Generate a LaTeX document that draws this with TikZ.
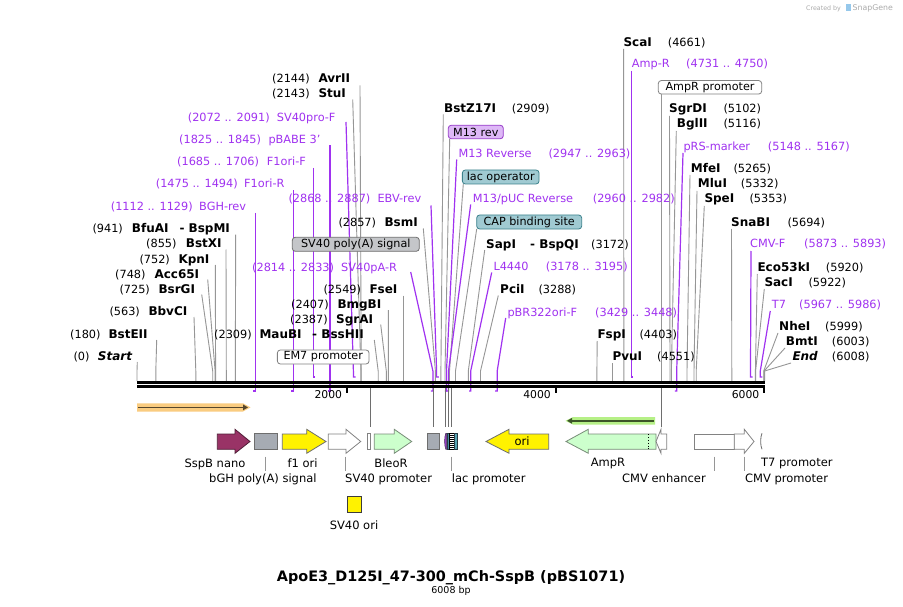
\documentclass[tikz,border=0pt]{standalone}
\usepackage{fontspec}
\setmainfont{DejaVu Sans}
\usetikzlibrary{arrows.meta}
\definecolor{primc}{RGB}{160,50,240}
\definecolor{linec}{RGB}{150,150,150}
\definecolor{featline}{RGB}{110,110,110}
\definecolor{ltgray}{RGB}{130,130,130}
\definecolor{polyafill}{RGB}{196,198,201}
\definecolor{polyadraw}{RGB}{110,110,110}
\definecolor{m13draw}{RGB}{150,60,200}
\definecolor{m13fill}{RGB}{222,184,247}
\definecolor{tealdraw}{RGB}{60,130,140}
\definecolor{tealfill}{RGB}{160,202,210}
\definecolor{orangeband}{RGB}{250,204,128}
\definecolor{orangeline}{RGB}{85,70,45}
\definecolor{greenband}{RGB}{182,240,135}
\definecolor{greenline}{RGB}{60,85,40}
\definecolor{sspbdraw}{RGB}{80,30,55}
\definecolor{sspbfill}{RGB}{153,51,102}
\definecolor{grayfeat}{RGB}{166,171,179}
\definecolor{ltgreendraw}{RGB}{120,140,120}
\definecolor{ltgreen}{RGB}{204,255,204}
\definecolor{m13feat}{RGB}{150,60,200}
\definecolor{m13featd}{RGB}{70,40,90}
\definecolor{teald}{RGB}{40,60,70}
\definecolor{tealA}{RGB}{70,140,160}
\definecolor{tealB}{RGB}{90,165,180}
\definecolor{svoridraw}{RGB}{60,60,60}
\definecolor{sggray}{RGB}{170,170,170}
\definecolor{sgblue}{RGB}{150,200,235}
\newcommand\eline[4]{%
  \coordinate (#1a) at (#2,#3); \coordinate (#1b) at (#4,371); \coordinate (#1c) at (#4,381);
  \draw[enzl] (#1a) -- (#1b) -- (#1c);}
\newcommand\pabove[5]{%
  \coordinate (#1a) at (#2,#3); \coordinate (#1b) at (#4,371); \coordinate (#1c) at (#4,377); \coordinate (#1d) at (#5,377);
  \draw[priml] (#1a) -- (#1b) -- (#1c) -- (#1d);}
\newcommand\pbelow[5]{%
  \coordinate (#1a) at (#2,#3); \coordinate (#1b) at (#4,371); \coordinate (#1c) at (#4,391); \coordinate (#1d) at (#5,391);
  \draw[priml] (#1a) -- (#1b) -- (#1c) -- (#1d);}
\begin{document}
\begin{tikzpicture}[x=1pt,y=-1pt,
  num/.style={anchor=base west, inner sep=0pt, font=\fontsize{11.3}{13}\selectfont},
  enz/.style={anchor=base west, inner sep=0pt, font=\fontsize{12}{14}\selectfont\bfseries},
  enzi/.style={anchor=base west, inner sep=0pt, font=\fontsize{12}{14}\selectfont\bfseries\itshape},
  prim/.style={num, text=primc},
  flab/.style={anchor=base, inner sep=0pt, font=\fontsize{11.5}{13}\selectfont},
  flabw/.style={flab, anchor=base west},
  enzl/.style={draw=linec, line width=0.9pt},
  priml/.style={draw=primc, line width=1.2pt},
  fline/.style={draw=featline, line width=0.8pt},
  lbox/.style={rounded corners=3pt, inner sep=0pt, minimum height=14pt, font=\fontsize{11.2}{13}\selectfont, line width=0.8pt},
  fshape/.style={line width=0.8pt, draw=featline}
]
\useasboundingbox (0,0) rectangle (903,607);
\fill[white] (0,0) rectangle (903,607);

% ---------- site lines (left) ----------
\eline{l0}{137.3}{362}{137.0}
\eline{l180}{156.7}{340}{155.8}
\eline{l563}{194}{317}{195.8}
\eline{l725}{201.7}{294.5}{212.7}
\eline{l748}{207.7}{279.5}{215.1}
\eline{l752}{215.3}{265}{215.6}
\eline{l855}{226}{249.5}{226.3}
\eline{l941}{235.7}{234.5}{235.3}
\pbelow{l1112}{255.3}{213}{255.3}{253.2}
\pbelow{l1475}{293.2}{190.5}{293.2}{291.1}
\pabove{l1685}{313.2}{168}{313.2}{315.4}
\pbelow{l1825}{330}{145.5}{330}{327.6}
\pabove{l2072}{346}{122}{353.4}{355.6}
\eline{l2143}{352.7}{99.5}{360.9}
\eline{l2144}{360}{85.5}{361.2}
% ---------- site lines (centre) ----------
\pabove{l2868}{431}{205.5}{436.6}{438.8}
\eline{l2857}{423.3}{228.5}{435.4}
\pbelow{l2814}{410.7}{272}{432.9}{430.9}
\eline{l2549}{403.3}{295.5}{403.3}
\eline{l2407}{388.3}{310}{388.4}
\eline{l2387}{380.7}{324.5}{386.3}
\eline{l2309}{374.3}{340}{378.2}
\eline{l2909}{443.3}{114.5}{440.9}
\eline{lm13b}{449.7}{139}{445.0}
\pbelow{l2947}{456.7}{159.5}{446.5}{444.8}
\eline{llacop}{463.3}{184}{449.5}
\pbelow{l2960}{470.7}{204.5}{448.5}{446.2}
\eline{lcap}{476.7}{229}{455.5}
\eline{l3172}{484.7}{250}{468.3}
\pbelow{l3178}{491.7}{272.5}{470.7}{469.0}
\eline{l3288}{498.3}{295.5}{480.5}
\pbelow{l3429}{505.7}{318}{497.2}{495.2}
\eline{l4403}{597.2}{341}{596.9}
\eline{l4551}{612.4}{363}{612.4}
% ---------- site lines (right) ----------
\eline{l4661}{623.6}{49}{623.9}
\pabove{l4731}{631.5}{71}{631.5}{633.4}
\eline{lamppr}{661.7}{94}{661.7}
\eline{l5102}{669.5}{116}{670.0}
\eline{l5116}{676.3}{131}{671.4}
\pbelow{l5148}{683}{153}{676.7}{674.8}
\eline{l5265}{690}{175}{687.0}
\eline{l5332}{697}{191}{694.0}
\eline{l5353}{704.3}{206}{696.2}
\eline{l5694}{731.5}{229}{731.8}
\pabove{l5873}{751}{251}{750.5}{752.6}
\eline{l5920}{757.3}{274}{755.4}
\eline{l5922}{764.3}{289}{755.6}
\pabove{l5967}{770.3}{311}{760.3}{762.3}
\eline{l5999}{778}{333}{763.7}
\eline{l6003}{785}{348}{764.1}
\eline{l6008}{791}{363}{764.6}

% ---------- feature connector lines below ruler ----------
\coordinate (fa1) at (370.7,388); \coordinate (fb1) at (370.7,427);
\coordinate (fa2) at (433.3,388); \coordinate (fb2) at (433.3,427);
\coordinate (fa3) at (445,388);   \coordinate (fb3) at (445,427);
\coordinate (fa4) at (448.3,388); \coordinate (fb4) at (448.3,427);
\coordinate (fa5) at (451.7,388); \coordinate (fb5) at (451.7,427);
\coordinate (fa6) at (661.7,388); \coordinate (fb6) at (661.7,427);
\foreach \i in {1,...,6} {\draw[fline] (fa\i) -- (fb\i);}

% ---------- ruler ----------
\coordinate (r0a) at (137,382.5); \coordinate (r1a) at (765,382.5);
\coordinate (r0b) at (137,386.4); \coordinate (r1b) at (765,386.4);
\draw[line width=3pt] (r0a) -- (r1a);
\draw[line width=2.6pt] (r0b) -- (r1b);
\foreach \tx/\tl in {346.8/2000, 555.5/4000, 764/6000} {
  \draw[line width=2pt] (\tx,385) -- (\tx,392.5);
  \node[anchor=base east, inner sep=0pt, font=\fontsize{10.8}{12}\selectfont] at (\tx-4.5,398) {\tl};
}

% ---------- text labels (left) ----------
\node[num] (p0) at (73.3,360.7) {(0)};      \node[enzi] (e0) at (97.7,360.7) {Start};
\node[num] (p180) at (70,338) {(180)};      \node[enz] (e180) at (108.3,338) {BstEII};
\node[num] (p563) at (109.3,315.7) {(563)}; \node[enz] (e563) at (148.3,315.7) {BbvCI};
\node[num] (p725) at (119.3,293) {(725)};   \node[enz] (e725) at (158.3,293) {BsrGI};
\node[num] (p748) at (115,278) {(748)};     \node[enz] (e748) at (154.3,278) {Acc65I};
\node[num] (p752) at (139.3,263) {(752)};   \node[enz] (e752) at (178.3,263) {KpnI};
\node[num] (p855) at (146,247.3) {(855)};   \node[enz] (e855) at (185.7,247.3) {BstXI};
\node[num] (p941) at (92.3,232.3) {(941)};  \node[enz] (e941) at (131.7,232.3) {BfuAI};
\node[enz] (e941b) at (179.3,232.3) {- BspMI};
\node[prim] (n1112) at (110.7,210.7) {(1112 .. 1129)}; \node[prim] (t1112) at (199,210.7) {BGH-rev};
\node[prim] (n1475) at (155.7,188) {(1475 .. 1494)};   \node[prim] (t1475) at (244,188) {F1ori-R};
\node[prim] (n1685) at (177,165.7) {(1685 .. 1706)};   \node[prim] (t1685) at (266.7,165.7) {F1ori-F};
\node[prim] (n1825) at (179,143.3) {(1825 .. 1845)};   \node[prim] (t1825) at (268.3,143.3) {pBABE 3'};
\node[prim] (n2072) at (187.7,121.3) {(2072 .. 2091)}; \node[prim] (t2072) at (276.7,121.3) {SV40pro-F};
\node[num] (p2143) at (272,97.5) {(2143)};  \node[enz] (e2143) at (318.3,97.5) {StuI};
\node[num] (p2144) at (272,82.5) {(2144)};  \node[enz] (e2144) at (318.3,82.5) {AvrII};

% ---------- text labels (centre) ----------
\node[prim] (n2868) at (288.3,203) {(2868 .. 2887)}; \node[prim] (t2868) at (377.3,203) {EBV-rev};
\node[num] (p2857) at (338.3,226.3) {(2857)}; \node[enz] (e2857) at (384.3,226.3) {BsmI};
\node[lbox, draw=polyadraw, fill=polyafill, minimum width=127pt] (bpolya) at (355.8,244.3) {SV40 poly(A) signal};
\node[prim] (n2814) at (252,271.3) {(2814 .. 2833)}; \node[prim] (t2814) at (341,271.3) {SV40pA-R};
\node[num] (p2549) at (323.3,293) {(2549)};  \node[enz] (e2549) at (369.3,293) {FseI};
\node[num] (p2407) at (291,308) {(2407)};    \node[enz] (e2407) at (337.3,308) {BmgBI};
\node[num] (p2387) at (290,323) {(2387)};    \node[enz] (e2387) at (336,323) {SgrAI};
\node[num] (p2309) at (214,338) {(2309)};    \node[enz] (e2309) at (259.3,338) {MauBI};
\node[enz] (e2309b) at (312,338) {- BssHII};
\node[lbox, draw=ltgray, fill=white, minimum width=91.7pt] (bem7) at (323.2,357) {EM7 promoter};

\node[enz] (e2909) at (444,113) {BstZ17I};  \node[num] (p2909) at (511.7,113) {(2909)};
\node[lbox, draw=m13draw, fill=m13fill, minimum width=55pt, minimum height=13.5pt] (bm13) at (475.8,132) {M13 rev};
\node[prim] (t2947) at (458.3,157.3) {M13 Reverse}; \node[prim] (n2947) at (548.3,157.3) {(2947 .. 2963)};
\node[lbox, draw=tealdraw, fill=tealfill, minimum width=76.7pt] (blacop) at (500.7,177) {lac operator};
\node[prim] (t2960) at (472.7,202.3) {M13/pUC Reverse}; \node[prim] (n2960) at (592.7,202.3) {(2960 .. 2982)};
\node[lbox, draw=tealdraw, fill=tealfill, minimum width=105pt] (bcap) at (529.2,222) {CAP binding site};
\node[enz] (e3172) at (486,248) {SapI}; \node[enz] (e3172b) at (530,248) {- BspQI}; \node[num] (p3172) at (591,248) {(3172)};
\node[prim] (t3178) at (493.3,270.7) {L4440}; \node[prim] (n3178) at (545.7,270.7) {(3178 .. 3195)};
\node[enz] (e3288) at (500,293.3) {PciI}; \node[num] (p3288) at (538.3,293.3) {(3288)};
\node[prim] (t3429) at (507.3,316.3) {pBR322ori-F}; \node[prim] (n3429) at (595,316.3) {(3429 .. 3448)};
\node[enz] (e4403) at (597.3,338.3) {FspI}; \node[num] (p4403) at (639.3,338.3) {(4403)};
\node[enz] (e4551) at (612.3,360.7) {PvuI}; \node[num] (p4551) at (657,360.7) {(4551)};

% ---------- text labels (right) ----------
\node[enz] (e4661) at (623.3,46.3) {ScaI}; \node[num] (p4661) at (667.7,46.3) {(4661)};
\node[prim] (t4731) at (631.7,68) {Amp-R}; \node[prim] (n4731) at (686,68) {(4731 .. 4750)};
\node[lbox, draw=ltgray, fill=white, minimum width=103.4pt, minimum height=13.5pt] (bamppr) at (710,87.3) {AmpR promoter};
\node[enz] (e5102) at (669,113) {SgrDI}; \node[num] (p5102) at (723.3,113) {(5102)};
\node[enz] (e5116) at (676.7,128) {BglII}; \node[num] (p5116) at (723.3,128) {(5116)};
\node[prim] (t5148) at (683.3,150.7) {pRS-marker}; \node[prim] (n5148) at (767.7,150.7) {(5148 .. 5167)};
\node[enz] (e5265) at (690.7,172.3) {MfeI}; \node[num] (p5265) at (733.3,172.3) {(5265)};
\node[enz] (e5332) at (697.7,188) {MluI}; \node[num] (p5332) at (740.7,188) {(5332)};
\node[enz] (e5353) at (704.3,203) {SpeI}; \node[num] (p5353) at (749.3,203) {(5353)};
\node[enz] (e5694) at (731,226.3) {SnaBI}; \node[num] (p5694) at (787.3,226.3) {(5694)};
\node[prim] (t5873) at (750,247.3) {CMV-F}; \node[prim] (n5873) at (804,247.3) {(5873 .. 5893)};
\node[enz] (e5920) at (757.3,271.3) {Eco53kI}; \node[num] (p5920) at (825.7,271.3) {(5920)};
\node[enz] (e5922) at (764.3,286.3) {SacI}; \node[num] (p5922) at (808.3,286.3) {(5922)};
\node[prim] (t5967) at (771.7,308) {T7}; \node[prim] (n5967) at (799,308) {(5967 .. 5986)};
\node[enz] (e5999) at (779,330.7) {NheI}; \node[num] (p5999) at (825,330.7) {(5999)};
\node[enz] (e6003) at (785.7,345.7) {BmtI}; \node[num] (p6003) at (831.7,345.7) {(6003)};
\node[enzi] (e6008) at (792.3,360.7) {End}; \node[num] (p6008) at (831.7,360.7) {(6008)};

% ---------- ORF arrows ----------
\fill[orangeband] (137,403.3) -- (243,403.3) -- (250.5,407.4) -- (243,411.5) -- (137,411.5) -- cycle;
\coordinate (oa) at (138,407.4); \coordinate (ob) at (248,407.4);
\draw[line width=1.8pt, draw=orangeline, -{Triangle[length=5pt,width=5.5pt]}] (oa) -- (ob);
\fill[greenband] (655,417) -- (573,417) -- (565.5,420.8) -- (573,424.6) -- (655,424.6) -- cycle;
\coordinate (ga) at (654,420.8); \coordinate (gb) at (567,420.8);
\draw[line width=1.8pt, draw=greenline, -{Triangle[length=5pt,width=5.5pt]}] (ga) -- (gb);

% ---------- features ----------
\filldraw[fshape, draw=sspbdraw, fill=sspbfill]
  (217.3,434) -- (235,434) -- (235,429.3) -- (250,441.5) -- (235,453.3) -- (235,449.3) -- (217.3,449.3) -- cycle;
\filldraw[fshape, fill=grayfeat] (254.3,433.3) rectangle (277.7,449.3);
\filldraw[fshape, fill=yellow]
  (282.3,434) -- (306.7,434) -- (306.7,429.3) -- (326,441.5) -- (306.7,453.3) -- (306.7,449.3) -- (282.3,449.3) -- cycle;
\filldraw[fshape, draw=ltgray, fill=white]
  (328.3,434) -- (346,434) -- (346,429.3) -- (360.7,441.5) -- (346,453.3) -- (346,449.3) -- (328.3,449.3) -- cycle;
\filldraw[fshape, draw=ltgray, fill=white] (367,433.3) rectangle (370.7,449.3);
\filldraw[fshape, draw=ltgreendraw, fill=ltgreen]
  (374.3,434) -- (394.3,434) -- (394.3,429.3) -- (411.7,441.5) -- (394.3,453.3) -- (394.3,449.3) -- (374.3,449.3) -- cycle;
\filldraw[fshape, fill=grayfeat] (427.3,433.3) rectangle (439.3,449.3);
\filldraw[line width=0.5pt, draw=m13featd, fill=m13feat] (445.8,433.3) .. controls (444.2,437) and (444.2,445.6) .. (445.8,449.3) -- (446.6,449.3) -- (446.6,433.3) -- cycle;
\filldraw[line width=0.5pt, draw=teald, fill=tealA] (447,433.3) rectangle (448.8,449.3);
\filldraw[line width=0.5pt, draw=black, fill=white] (449.2,433.3) rectangle (454.3,449.3);
\foreach \yy in {435,437,...,448} {\draw[line width=0.9pt] (449.4,\yy) -- (454.1,\yy);}
\filldraw[line width=0.5pt, draw=teald, fill=tealB] (454.6,433.3) rectangle (457,449.3);
\filldraw[fshape, fill=yellow]
  (548.7,434) -- (509,434) -- (509,429.3) -- (486,441.5) -- (509,453.3) -- (509,449.3) -- (548.7,449.3) -- cycle;
\node[flab, anchor=center] (tori) at (522,441.3) {ori};
\filldraw[fshape, draw=ltgreendraw, fill=ltgreen]
  (656,434) -- (588.3,434) -- (588.3,429.3) -- (566,441.5) -- (588.3,453.3) -- (588.3,449.3) -- (656,449.3) -- cycle;
\draw[line width=0.8pt, dotted] (648.3,434.3) -- (648.3,449);
\filldraw[fshape, draw=ltgray, fill=white]
  (666.7,434) -- (661,434) -- (661,429.3) -- (656,441.5) -- (661,453.3) -- (661,449.3) -- (666.7,449.3) -- cycle;
\filldraw[fshape, draw=ltgray, fill=white] (694.3,434) rectangle (734.3,449.3);
\filldraw[fshape, draw=ltgray, fill=white]
  (734.3,434) -- (744.3,434) -- (744.3,429.3) -- (754,441.5) -- (744.3,453.3) -- (744.3,449.3) -- (734.3,449.3) -- cycle;
\draw[fshape] (762,433.3) .. controls (760.2,437) and (760.2,445.6) .. (762,449.3);
\filldraw[line width=0.8pt, draw=svoridraw, fill=yellow] (347.3,496) rectangle (361.7,512.7);

% ---------- feature labels ----------
\node[flab] (lsspb) at (215,467) {SspB nano};
\node[flab] (lf1) at (302.5,467) {f1 ori};
\node[flab] (lbleo) at (391,467) {BleoR};
\node[flab] (lampr) at (608,466) {AmpR};
\node[flabw] (lt7) at (761,466) {T7 promoter};
\node[flabw] (lbgh) at (209,482.5) {bGH poly(A) signal};
\node[flabw] (lsv40p) at (345,482.5) {SV40 promoter};
\node[flabw] (llacp) at (451.7,482.5) {lac promoter};
\node[flabw] (lcmve) at (622,482.5) {CMV enhancer};
\node[flabw] (lcmvp) at (745,482.5) {CMV promoter};
\node[flab] (lsv40o) at (354,529.5) {SV40 ori};
\foreach \n/\x in {1/265.3, 2/345.3, 3/451.7, 4/714.3, 5/744.3} {
  \coordinate (la\n) at (\x,456.5); \coordinate (lb\n) at (\x,471);
  \draw[fline, draw=linec] (la\n) -- (lb\n);
}

% ---------- title ----------
\node[anchor=base, inner sep=0pt, font=\fontsize{14.4}{16}\selectfont\bfseries] (title) at (451,581) {ApoE3\_D125I\_47-300\_mCh-SspB (pBS1071)};
\node[anchor=base, inner sep=0pt, font=\fontsize{9.5}{11}\selectfont] (bp) at (451,593.5) {6008 bp};
\node[anchor=base west, inner sep=0pt, font=\fontsize{6.3}{7}\selectfont, text=sggray] (cb) at (806,10.5) {Created by};
\fill[sgblue] (845.5,4.5) rectangle (850.5,11);
\node[anchor=base west, inner sep=0pt, font=\fontsize{7.8}{9}\selectfont, text=sggray] (sg) at (852.5,11) {SnapGene};
\end{tikzpicture}
\end{document}
